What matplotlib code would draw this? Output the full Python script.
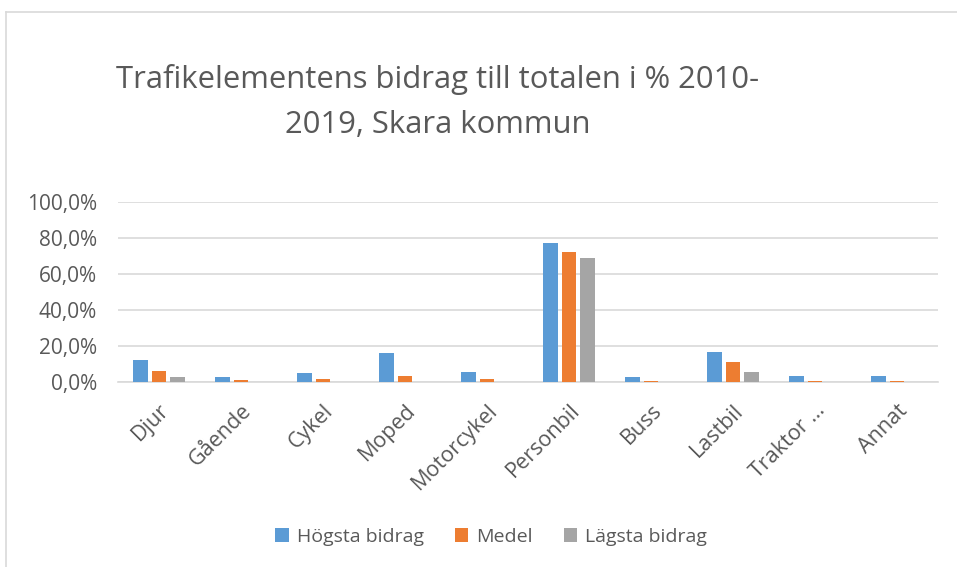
import numpy as np
import matplotlib
matplotlib.use('Agg')
import matplotlib.pyplot as plt
from matplotlib.ticker import FuncFormatter
from matplotlib.lines import Line2D

plt.rcParams['font.family'] = ['Open Sans', 'DejaVu Sans']

categories = ['Djur', 'Gående', 'Cykel', 'Moped', 'Motorcykel',
              'Personbil', 'Buss', 'Lastbil', 'Traktor …', 'Annat']
hogsta = [0.122, 0.026, 0.048, 0.161, 0.056, 0.770, 0.028, 0.167, 0.031, 0.031]
medel  = [0.061, 0.011, 0.017, 0.033, 0.017, 0.722, 0.005, 0.109, 0.005, 0.005]
lagsta = [0.026, 0.002, 0.001, 0.001, 0.001, 0.687, 0.001, 0.056, 0.001, 0.001]
series_names = ['Högsta bidrag', 'Medel', 'Lägsta bidrag']
colors = ['#5B9BD5', '#ED7D31', '#A5A5A5']
title_lines = ['Trafikelementens bidrag till totalen i % 2010-', '2019, Skara kommun']

TXT = '#595959'

fig = plt.figure(figsize=(9.57, 5.67), dpi=100)
ax = fig.add_axes([118 / 957, 1 - 382 / 567, 820 / 957, 180 / 567])

x = np.arange(len(categories))
w = 0.18
step = 0.225
for i, (vals, name, c) in enumerate(zip([hogsta, medel, lagsta], series_names, colors)):
    ax.bar(x + (i - 1) * step, vals, width=w, color=c, label=name, zorder=3)

ax.set_xlim(-0.5, len(categories) - 0.5)
ax.set_ylim(0, 1.0)
ax.set_yticks(np.arange(0, 1.01, 0.2))
ax.yaxis.set_major_formatter(FuncFormatter(lambda v, p: f"{v * 100:.1f}%".replace('.', ',')))
ax.grid(axis='y', color='#D9D9D9', lw=1.2, zorder=0)
for s in ['top', 'right', 'left']:
    ax.spines[s].set_visible(False)
ax.spines['bottom'].set_color('#D9D9D9')
ax.spines['bottom'].set_linewidth(1.2)
ax.tick_params(axis='y', length=0, colors=TXT, labelsize=15, pad=15)

ax.set_xticks(x)
ax.set_xticklabels(categories, rotation=45, ha='right', rotation_mode='anchor')
ax.tick_params(axis='x', length=0, colors=TXT, labelsize=15.5, pad=13)

# title, two lines like Excel wraps it
for line, base_y in zip(title_lines, [88, 133]):
    fig.text(438 / 957, 1 - base_y / 567, line, ha='center', va='baseline',
             fontsize=22.3, color=TXT)

ax.legend(loc='center', bbox_to_anchor=(491 / 957, 1 - 537 / 567), bbox_transform=fig.transFigure,
          ncol=3, frameon=False, fontsize=14, labelcolor=TXT, handlelength=0.7, handleheight=0.7,
          handletextpad=0.4, columnspacing=1.6)

# chart frame
fig.add_artist(Line2D([6 / 957, 6 / 957], [0, 1 - 12 / 567], color='#D9D9D9', lw=1.2, transform=fig.transFigure))
fig.add_artist(Line2D([6 / 957, 1], [1 - 12 / 567, 1 - 12 / 567], color='#D9D9D9', lw=1.2, transform=fig.transFigure))

fig.savefig('out.png', dpi=100)
